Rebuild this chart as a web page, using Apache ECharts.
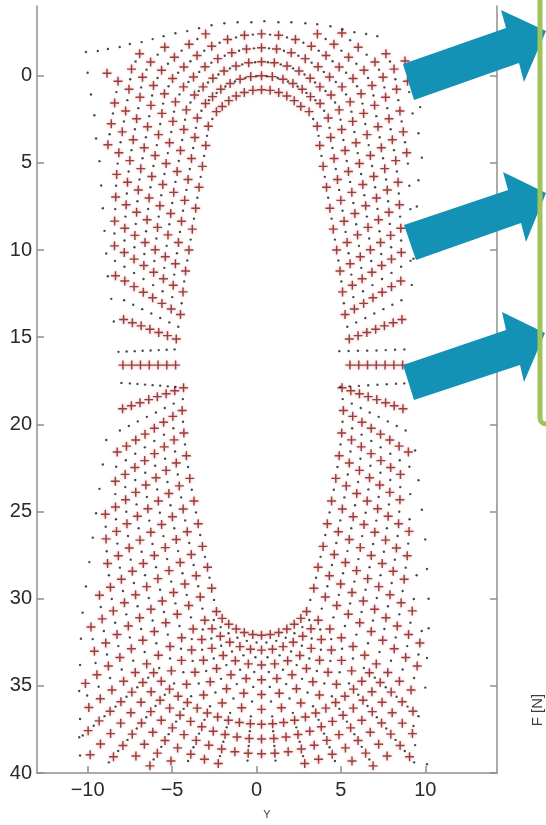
<!DOCTYPE html>
<html><head><meta charset="utf-8">
<script src="https://cdn.jsdelivr.net/npm/echarts@6/dist/echarts.min.js"></script>
<style>html,body{margin:0;padding:0;background:#fff;}#c{width:546px;height:825px;}</style>
</head><body><div id="c"></div>
<script>
const xTickValues = [-10, -5, 0, 5, 10];
const yTickValues = [0, 5, 10, 15, 20, 25, 30, 35, 40];

const topCapCrosses = [
[0.3,0.8],[0.3,0],[0.3,-0.8],[0.3,-1.6],[0.3,-2.4],
[0.81,0.84],[0.94,0.05],[1.06,-0.74],[1.19,-1.53],[1.31,-2.32],
[-0.21,0.84],[-0.34,0.05],[-0.46,-0.74],[-0.59,-1.53],[-0.71,-2.32],
[1.32,0.96],[1.57,0.2],[1.81,-0.56],[2.06,-1.32],[2.31,-2.08],
[-0.72,0.96],[-0.97,0.2],[-1.21,-0.56],[-1.46,-1.32],[-1.71,-2.08],
[1.8,1.16],[2.16,0.45],[2.52,-0.27],[2.89,-0.98],[3.25,-1.69],[3.61,-2.4],
[-1.2,1.16],[-1.56,0.45],[-1.92,-0.27],[-2.29,-0.98],[-2.65,-1.69],[-3.01,-2.4],
[2.24,1.43],[2.71,0.78],[3.18,0.14],[3.65,-0.51],[4.12,-1.16],[4.59,-1.81],[5.06,-2.45],
[-1.64,1.43],[-2.11,0.78],[-2.58,0.14],[-3.05,-0.51],[-3.52,-1.16],[-3.99,-1.81],
[2.63,1.77],[3.2,1.2],[3.76,0.64],[4.33,0.07],[4.9,-0.5],[5.46,-1.06],[6.03,-1.63],
[-2.03,1.77],[-2.6,1.2],[-3.16,0.64],[-3.73,0.07],[-4.3,-0.5],[-4.86,-1.06],[-5.43,-1.63]
];

const leftSideCrosses = [
[-2.37,2.06],[-3.02,1.59],[-3.67,1.11],[-4.32,0.64],[-4.97,0.16],[-5.62,-0.31],[-6.27,-0.79],[-6.92,-1.26],
[-2.85,2.9],[-3.5,2.43],[-4.15,1.96],[-4.8,1.5],[-5.45,1.03],[-6.1,0.56],[-6.75,0.09],[-7.4,-0.38],
[-3,4],[-3.65,3.54],[-4.3,3.08],[-4.95,2.62],[-5.6,2.16],[-6.25,1.7],[-6.9,1.24],[-7.55,0.78],[-8.2,0.32],[-8.85,-0.14],
[-3.2,5.2],[-3.85,4.75],[-4.5,4.29],[-5.15,3.84],[-5.8,3.38],[-6.45,2.93],[-7.1,2.47],[-7.75,2.02],[-8.4,1.56],
[-3.4,6.4],[-4.05,5.95],[-4.7,5.49],[-5.35,5.04],[-6,4.58],[-6.65,4.13],[-7.3,3.67],[-7.95,3.22],[-8.6,2.76],
[-3.6,7.6],[-4.25,7.15],[-4.9,6.69],[-5.55,6.24],[-6.2,5.78],[-6.85,5.33],[-7.5,4.87],[-8.15,4.42],[-8.8,3.96],
[-3.8,8.8],[-4.44,8.35],[-5.08,7.9],[-5.72,7.46],[-6.36,7.01],[-7,6.56],[-7.64,6.11],[-8.28,5.66],
[-4,10],[-4.62,9.57],[-5.24,9.13],[-5.86,8.7],[-6.48,8.26],[-7.1,7.83],[-7.72,7.4],[-8.34,6.96],
[-4.2,11.2],[-4.8,10.79],[-5.4,10.38],[-6,9.98],[-6.6,9.57],[-7.2,9.16],[-7.8,8.75],[-8.4,8.34],
[-4.35,12.4],[-4.93,12.02],[-5.51,11.65],[-6.09,11.27],[-6.67,10.89],[-7.25,10.52],[-7.83,10.14],[-8.41,9.76],
[-4.5,13.7],[-5.05,13.38],[-5.6,13.06],[-6.15,12.74],[-6.7,12.42],[-7.25,12.1],[-7.8,11.78],[-8.35,11.47],
[-4.75,15.1],[-5.27,14.91],[-5.79,14.73],[-6.31,14.54],[-6.83,14.35],[-7.35,14.17],[-7.87,13.98],
[-4.79,16.6],[-5.31,16.6],[-5.83,16.6],[-6.35,16.6],[-6.87,16.6],[-7.39,16.6],[-7.91,16.6],
[-4.32,17.9],[-4.84,18.07],[-5.35,18.24],[-5.87,18.41],[-6.38,18.58],[-6.9,18.76],[-7.41,18.93],[-7.93,19.1],
[-4.4,19.2],[-4.95,19.54],[-5.5,19.88],[-6.05,20.22],[-6.6,20.56],[-7.15,20.9],[-7.7,21.25],[-8.25,21.59],
[-4.3,20.5],[-4.88,20.89],[-5.46,21.29],[-6.04,21.68],[-6.62,22.08],[-7.2,22.47],[-7.78,22.87],[-8.36,23.26],
[-4.15,21.8],[-4.75,22.22],[-5.35,22.64],[-5.95,23.06],[-6.55,23.48],[-7.15,23.9],[-7.75,24.32],[-8.35,24.74],[-8.95,25.16],
[-3.95,23.1],[-4.57,23.53],[-5.19,23.97],[-5.81,24.4],[-6.43,24.84],[-7.05,25.27],[-7.67,25.7],[-8.29,26.14],[-8.91,26.57],
[-3.7,24.4],[-4.34,24.85],[-4.98,25.3],[-5.62,25.74],[-6.26,26.19],[-6.9,26.64],[-7.54,27.09],[-8.18,27.54],[-8.82,27.98],
[-3.45,25.7],[-4.1,26.16],[-4.75,26.61],[-5.4,27.07],[-6.05,27.52],[-6.7,27.98],[-7.35,28.43],[-8,28.89],[-8.65,29.34],[-9.3,29.8],
[-3.2,27],[-3.86,27.46],[-4.52,27.92],[-5.18,28.39],[-5.84,28.85],[-6.5,29.31],[-7.16,29.77],[-7.82,30.23],[-8.48,30.7],[-9.14,31.16],[-9.8,31.62],
[-2.9,28.2],[-3.57,28.68],[-4.24,29.16],[-4.91,29.65],[-5.58,30.13],[-6.25,30.61],[-6.92,31.09],[-7.59,31.57],[-8.26,32.06],[-8.93,32.54],[-9.6,33.02],
[-2.65,29.4],[-3.33,29.9],[-4.01,30.39],[-4.69,30.89],[-5.37,31.38],[-6.05,31.88],[-6.73,32.38],[-7.41,32.87],[-8.09,33.37],[-8.77,33.86],[-9.45,34.36],[-10.13,34.86]
];

const rightSideCrosses = [
[3.12,2.06],[3.77,1.59],[4.42,1.11],[5.07,0.64],[5.72,0.16],[6.37,-0.31],[7.02,-0.79],[7.67,-1.26],
[3.6,2.9],[4.25,2.43],[4.9,1.96],[5.55,1.5],[6.2,1.03],[6.85,0.56],[7.5,0.09],[8.15,-0.38],[8.8,-0.84],
[3.75,4],[4.4,3.54],[5.05,3.08],[5.7,2.62],[6.35,2.16],[7,1.7],[7.65,1.24],[8.3,0.78],[8.95,0.32],
[3.95,5.2],[4.6,4.75],[5.25,4.29],[5.9,3.84],[6.55,3.38],[7.2,2.93],[7.85,2.47],[8.5,2.02],
[4.15,6.4],[4.8,5.95],[5.45,5.49],[6.1,5.04],[6.75,4.58],[7.4,4.13],[8.05,3.67],[8.7,3.22],
[4.35,7.6],[5,7.15],[5.65,6.69],[6.3,6.24],[6.95,5.78],[7.6,5.33],[8.25,4.87],[8.9,4.42],
[4.55,8.8],[5.19,8.35],[5.83,7.9],[6.47,7.46],[7.11,7.01],[7.75,6.56],[8.39,6.11],
[4.75,10],[5.37,9.57],[5.99,9.13],[6.61,8.7],[7.23,8.26],[7.85,7.83],[8.47,7.4],
[4.95,11.2],[5.55,10.79],[6.15,10.38],[6.75,9.98],[7.35,9.57],[7.95,9.16],[8.55,8.75],
[5.1,12.4],[5.68,12.02],[6.26,11.65],[6.84,11.27],[7.42,10.89],[8,10.52],[8.58,10.14],
[5.25,13.7],[5.8,13.38],[6.35,13.06],[6.9,12.74],[7.45,12.42],[8,12.1],[8.55,11.78],
[5.5,15.1],[6.02,14.91],[6.54,14.73],[7.06,14.54],[7.58,14.35],[8.1,14.17],[8.62,13.98],
[5.54,16.6],[6.06,16.6],[6.58,16.6],[7.1,16.6],[7.62,16.6],[8.14,16.6],[8.66,16.6],
[5.07,17.9],[5.59,18.07],[6.1,18.24],[6.62,18.41],[7.13,18.58],[7.65,18.76],[8.16,18.93],[8.68,19.1],
[5.15,19.2],[5.7,19.54],[6.25,19.88],[6.8,20.22],[7.35,20.56],[7.9,20.9],[8.45,21.25],[9,21.59],
[5.05,20.5],[5.63,20.89],[6.21,21.29],[6.79,21.68],[7.37,22.08],[7.95,22.47],[8.53,22.87],
[4.9,21.8],[5.5,22.22],[6.1,22.64],[6.7,23.06],[7.3,23.48],[7.9,23.9],[8.5,24.32],
[4.7,23.1],[5.32,23.53],[5.94,23.97],[6.56,24.4],[7.18,24.84],[7.8,25.27],[8.42,25.7],[9.04,26.14],
[4.45,24.4],[5.09,24.85],[5.73,25.3],[6.37,25.74],[7.01,26.19],[7.65,26.64],[8.29,27.09],[8.93,27.54],
[4.2,25.7],[4.85,26.16],[5.5,26.61],[6.15,27.07],[6.8,27.52],[7.45,27.98],[8.1,28.43],[8.75,28.89],
[3.95,27],[4.61,27.46],[5.27,27.92],[5.93,28.39],[6.59,28.85],[7.25,29.31],[7.91,29.77],[8.57,30.23],[9.23,30.7],
[3.65,28.2],[4.32,28.68],[4.99,29.16],[5.66,29.65],[6.33,30.13],[7,30.61],[7.67,31.09],[8.34,31.57],[9.01,32.06],[9.68,32.54],
[3.4,29.4],[4.08,29.9],[4.76,30.39],[5.44,30.89],[6.12,31.38],[6.8,31.88],[7.48,32.38],[8.16,32.87],[8.84,33.37],[9.52,33.86]
];

const bottomCapCrosses = [
[0.3,32.1],[0.3,32.95],[0.3,33.8],[0.3,34.65],[0.3,35.5],[0.3,36.35],[0.3,37.2],[0.3,38.05],[0.3,38.9],
[0.82,32.06],[0.95,32.9],[1.08,33.74],[1.21,34.58],[1.35,35.42],[1.48,36.26],[1.61,37.1],[1.75,37.94],[1.88,38.78],
[-0.22,32.06],[-0.35,32.9],[-0.48,33.74],[-0.61,34.58],[-0.75,35.42],[-0.88,36.26],[-1.01,37.1],[-1.15,37.94],[-1.28,38.78],
[1.32,31.94],[1.58,32.75],[1.85,33.56],[2.11,34.36],[2.37,35.17],[2.63,35.98],[2.9,36.79],[3.16,37.6],[3.42,38.41],[3.68,39.21],
[-0.72,31.94],[-0.98,32.75],[-1.25,33.56],[-1.51,34.36],[-1.77,35.17],[-2.03,35.98],[-2.3,36.79],[-2.56,37.6],[-2.82,38.41],[-3.08,39.21],
[1.8,31.74],[2.18,32.5],[2.57,33.26],[2.96,34.01],[3.34,34.77],[3.73,35.53],[4.11,36.28],[4.5,37.04],[4.89,37.8],[5.27,38.56],[5.66,39.31],
[-1.2,31.74],[-1.58,32.5],[-1.97,33.26],[-2.36,34.01],[-2.74,34.77],[-3.13,35.53],[-3.51,36.28],[-3.9,37.04],[-4.29,37.8],[-4.67,38.56],[-5.06,39.31],
[2.24,31.47],[2.74,32.16],[3.24,32.85],[3.74,33.53],[4.24,34.22],[4.74,34.91],[5.24,35.6],[5.74,36.28],[6.24,36.97],[6.74,37.66],[7.24,38.35],[7.74,39.03],
[-1.64,31.47],[-2.14,32.16],[-2.64,32.85],[-3.14,33.53],[-3.64,34.22],[-4.14,34.91],[-4.64,35.6],[-5.14,36.28],[-5.64,36.97],[-6.14,37.66],[-6.64,38.35],[-7.14,39.03],
[2.63,31.13],[3.23,31.73],[3.84,32.34],[4.44,32.94],[5.04,33.54],[5.64,34.14],[6.24,34.74],[6.84,35.34],[7.44,35.94],[8.04,36.54],[8.64,37.14],[9.24,37.74],
[-2.03,31.13],[-2.63,31.73],[-3.24,32.34],[-3.84,32.94],[-4.44,33.54],[-5.04,34.14],[-5.64,34.74],[-6.24,35.34],[-6.84,35.94],[-7.44,36.54],[-8.04,37.14],[-8.64,37.74],[-9.24,38.34],[-9.85,38.95],
[2.97,30.74],[3.66,31.24],[4.35,31.74],[5.03,32.24],[5.72,32.74],[6.41,33.24],[7.1,33.74],[7.78,34.24],[8.47,34.74],[9.16,35.24],
[-2.37,30.74],[-3.06,31.24],[-3.75,31.74],[-4.43,32.24],[-5.12,32.74],[-5.81,33.24],[-6.5,33.74],[-7.18,34.24],[-7.87,34.74],[-8.56,35.24],[-9.25,35.74],[-9.93,36.24],
[0.96,37.17],[1.03,38.02],[1.09,38.87],[-0.36,37.17],[-0.43,38.02],[-0.49,38.87],
[2.26,36.97],[2.46,37.79],[2.66,38.62],[2.86,39.45],[-1.66,36.97],[-1.86,37.79],[-2.06,38.62],[-2.26,39.45],
[3.51,36.56],[3.84,37.35],[4.17,38.13],[4.49,38.92],[-2.91,36.56],[-3.24,37.35],[-3.57,38.13],[-3.89,38.92],
[4.69,35.96],[5.13,36.69],[5.58,37.41],[6.02,38.14],[6.47,38.86],[6.91,39.59],[-4.09,35.96],[-4.53,36.69],[-4.98,37.41],[-5.42,38.14],[-5.87,38.86],[-6.31,39.59],
[5.75,35.19],[6.31,35.83],[6.86,36.48],[7.41,37.13],[7.96,37.77],[8.51,38.42],[9.07,39.07],[-5.15,35.19],[-5.71,35.83],[-6.26,36.48],[-6.81,37.13],[-7.36,37.77],[-7.91,38.42],[-8.47,39.07],
[6.69,34.25],[7.33,34.81],[7.98,35.36],[8.63,35.91],[9.27,36.46],[-6.09,34.25],[-6.73,34.81],[-7.38,35.36],[-8.03,35.91],[-8.67,36.46],[-9.32,37.01],[-9.97,37.57]
];

const boundaryDots = [
[-10.1,-1.36],[-9.4,-1.42],[-8.8,-1.53],[-8.1,-1.65],[-7.5,-1.82],[-6.8,-1.93],[-6.15,-2.1],[-5.5,-2.27],[-4.8,-2.44],[-4.1,-2.56],[-3.4,-2.73],[-2.66,-2.9],[-1.9,-3.01],[-1.12,-3.07],[-0.3,-3.07],[0.47,-3.13],[1.3,-3.07],[2.07,-3.07],[2.9,-3.01],[3.6,-2.95],[4.38,-2.84],[5.09,-2.67],[5.8,-2.5],[6.5,-2.39],[7.16,-2.27],
[-10,-0.17],[-9.8,1.08],[-9.6,2.27],[-9.5,3.6],[-9.3,4.9],[-9.2,6.3],[-9.1,7.6],[-9,8.9],[-8.9,10.2],[-8.8,11.5],[-8.6,12.8],[-8.45,14.1],
[-8.9,20.9],[-9.1,22.3],[-9.3,23.7],[-9.5,25.1],[-9.7,26.5],[-9.9,27.9],[-10.1,29.3],[-10.3,30.8],[-10.4,32.3],[-10.45,33.8],[-10.5,35.3],[-10.45,36.9],[-10.5,37.95],[-10.45,39],
[9.4,0.4],[9.7,1.8],[9.6,3.3],[9.8,4.7],[9.6,6],[9.5,7.5],[9.4,9],[9.3,10.5],[9.2,12],
[9.4,21.5],[9.6,23.2],[9.8,24.9],[10,26.6],[10.1,28.3],[10.2,30],[10.2,31.7],[10.1,33.4],[10,35.1],[9.3,37.3],[9.4,38.4],[10.1,39.5]
];

const topCapDots = [
[0.62,0.03],[0.68,-0.77],[0.75,-1.57],[0.81,-2.36],
[1.26,0.13],[1.44,-0.65],[1.63,-1.43],[1.81,-2.2],
[1.87,0.33],[2.17,-0.42],[2.48,-1.15],[2.78,-1.89],
[2.44,0.62],[2.85,-0.07],[3.27,-0.75],[3.69,-1.43],[4.1,-2.11],
[2.96,0.99],[3.47,0.39],[3.99,-0.22],[4.51,-0.83],[5.03,-1.44],[5.55,-2.04],
[3.49,1.4],[4.09,0.88],[4.7,0.36],[5.31,-0.17],[5.92,-0.69],[6.53,-1.21],
[-0.02,0.03],[-0.08,-0.77],[-0.15,-1.57],[-0.21,-2.36],
[-0.66,0.13],[-0.84,-0.65],[-1.03,-1.43],[-1.21,-2.2],
[-1.27,0.33],[-1.57,-0.42],[-1.88,-1.15],[-2.18,-1.89],
[-1.84,0.62],[-2.25,-0.07],[-2.67,-0.75],[-3.09,-1.43],[-3.5,-2.11],
[-2.36,0.99],[-2.87,0.39],[-3.39,-0.22],[-3.91,-0.83],[-4.43,-1.44],
[-2.81,1.4],[-3.42,0.88],[-4.03,0.36],[-4.64,-0.17],[-5.24,-0.69],[-5.85,-1.21]
];

const leftSideDots = [
[-2.61,2.48],[-3.26,2.01],[-3.91,1.54],[-4.56,1.07],[-5.21,0.6],[-5.86,0.13],[-6.51,-0.35],[-7.16,-0.82],
[-2.93,3.45],[-3.58,2.99],[-4.23,2.52],[-4.88,2.06],[-5.53,1.6],[-6.18,1.13],[-6.83,0.67],[-7.48,0.2],
[-3.1,4.6],[-3.75,4.15],[-4.4,3.69],[-5.05,3.23],[-5.7,2.77],[-6.35,2.32],[-7,1.86],[-7.65,1.4],[-8.3,0.94],
[-3.3,5.8],[-3.95,5.35],[-4.6,4.89],[-5.25,4.44],[-5.9,3.98],[-6.55,3.53],[-7.2,3.07],[-7.85,2.62],[-8.5,2.16],
[-3.5,7],[-4.15,6.55],[-4.8,6.09],[-5.45,5.64],[-6.1,5.18],[-6.75,4.73],[-7.4,4.27],[-8.05,3.82],[-8.7,3.36],
[-3.7,8.2],[-4.35,7.75],[-4.99,7.3],[-5.64,6.85],[-6.28,6.4],[-6.93,5.95],[-7.57,5.49],[-8.22,5.04],
[-3.9,9.4],[-4.53,8.96],[-5.16,8.52],[-5.79,8.08],[-6.42,7.64],[-7.05,7.2],[-7.68,6.76],[-8.31,6.31],
[-4.1,10.6],[-4.71,10.18],[-5.32,9.76],[-5.93,9.34],[-6.54,8.92],[-7.15,8.5],[-7.76,8.08],[-8.37,7.65],
[-4.28,11.8],[-4.87,11.41],[-5.46,11.02],[-6.05,10.63],[-6.64,10.23],[-7.23,9.84],[-7.82,9.45],[-8.41,9.05],
[-4.43,13.05],[-4.99,12.7],[-5.56,12.36],[-6.12,12.01],[-6.69,11.66],[-7.25,11.31],[-7.82,10.96],[-8.38,10.62],
[-4.63,14.4],[-5.16,14.15],[-5.7,13.9],[-6.23,13.64],[-6.77,13.39],[-7.3,13.14],[-7.84,12.88],
[-4.85,15.7],[-5.32,15.72],[-5.79,15.74],[-6.27,15.76],[-6.74,15.78],[-7.21,15.8],[-7.69,15.82],[-8.17,15.84],
[-4.8,17.85],[-5.25,17.82],[-5.7,17.78],[-6.15,17.75],[-6.6,17.72],[-7.05,17.68],[-7.5,17.65],[-8,17.62],
[-4.36,18.55],[-4.9,18.81],[-5.43,19.06],[-5.96,19.32],[-6.49,19.57],[-7.03,19.83],[-7.56,20.09],[-8.09,20.35],
[-4.35,19.85],[-4.92,20.22],[-5.48,20.59],[-6.05,20.95],[-6.61,21.32],[-7.18,21.69],[-7.74,22.06],[-8.31,22.43],
[-4.23,21.15],[-4.82,21.56],[-5.41,21.97],[-6,22.37],[-6.59,22.78],[-7.18,23.19],[-7.77,23.6],[-8.36,24],
[-4.05,22.45],[-4.66,22.88],[-5.27,23.31],[-5.88,23.73],[-6.49,24.16],[-7.1,24.59],[-7.71,25.01],[-8.32,25.44],[-8.93,25.87],
[-3.83,23.75],[-4.46,24.19],[-5.09,24.64],[-5.72,25.07],[-6.35,25.52],[-6.98,25.96],[-7.61,26.4],[-8.24,26.84],[-8.87,27.28],
[-3.58,25.05],[-4.22,25.51],[-4.87,25.96],[-5.51,26.41],[-6.16,26.86],[-6.8,27.31],[-7.45,27.76],[-8.09,28.22],[-8.74,28.66],
[-3.33,26.35],[-3.98,26.81],[-4.64,27.27],[-5.29,27.73],[-5.95,28.19],[-6.6,28.65],[-7.26,29.1],[-7.91,29.56],[-8.57,30.02],[-9.22,30.48],
[-3.05,27.6],[-3.72,28.07],[-4.38,28.54],[-5.05,29.02],[-5.71,29.49],[-6.38,29.96],[-7.04,30.43],[-7.71,30.9],[-8.37,31.38],[-9.04,31.85],[-9.7,32.32],
[-2.78,28.8],[-3.45,29.29],[-4.13,29.78],[-4.8,30.27],[-5.48,30.76],[-6.15,31.25],[-6.83,31.74],[-7.5,32.22],[-8.18,32.72],[-8.85,33.2],[-9.53,33.69],
[-2.51,30.07],[-3.2,30.57],[-3.88,31.07],[-4.56,31.57],[-5.25,32.06],[-5.93,32.56],[-6.62,33.06],[-7.3,33.56],[-7.98,34.06],[-8.67,34.55],[-9.35,35.05],[-10.03,35.55]
];

const rightSideDots = [
[3.36,2.48],[4.01,2.01],[4.66,1.54],[5.31,1.07],[5.96,0.6],[6.61,0.13],[7.26,-0.35],[7.91,-0.82],
[3.68,3.45],[4.33,2.99],[4.98,2.52],[5.63,2.06],[6.28,1.6],[6.93,1.13],[7.58,0.67],[8.23,0.2],
[3.85,4.6],[4.5,4.15],[5.15,3.69],[5.8,3.23],[6.45,2.77],[7.1,2.32],[7.75,1.86],[8.4,1.4],[9.05,0.94],
[4.05,5.8],[4.7,5.35],[5.35,4.89],[6,4.44],[6.65,3.98],[7.3,3.53],[7.95,3.07],[8.6,2.62],[9.25,2.16],
[4.25,7],[4.9,6.55],[5.55,6.09],[6.2,5.64],[6.85,5.18],[7.5,4.73],[8.15,4.27],[8.8,3.82],
[4.45,8.2],[5.1,7.75],[5.74,7.3],[6.39,6.85],[7.03,6.4],[7.68,5.95],[8.32,5.49],[8.97,5.04],
[4.65,9.4],[5.28,8.96],[5.91,8.52],[6.54,8.08],[7.17,7.64],[7.8,7.2],[8.43,6.76],[9.06,6.31],
[4.85,10.6],[5.46,10.18],[6.07,9.76],[6.68,9.34],[7.29,8.92],[7.9,8.5],[8.51,8.08],[9.12,7.65],
[5.03,11.8],[5.62,11.41],[6.21,11.02],[6.8,10.63],[7.39,10.23],[7.98,9.84],[8.57,9.45],[9.16,9.05],
[5.18,13.05],[5.74,12.7],[6.31,12.36],[6.87,12.01],[7.44,11.66],[8,11.31],[8.57,10.96],[9.13,10.62],
[5.38,14.4],[5.91,14.15],[6.45,13.9],[6.98,13.64],[7.52,13.39],[8.05,13.14],[8.59,12.88],
[4.91,15.8],[5.46,15.79],[6.01,15.78],[6.56,15.77],[7.11,15.76],[7.66,15.74],[8.21,15.72],[8.76,15.7],
[4.97,17.85],[5.52,17.82],[6.07,17.79],[6.62,17.76],[7.17,17.73],[7.72,17.7],[8.27,17.67],[8.76,17.65],
[5.11,18.55],[5.65,18.81],[6.18,19.06],[6.71,19.32],[7.24,19.57],[7.78,19.83],[8.31,20.09],[8.84,20.35],
[5.1,19.85],[5.67,20.22],[6.23,20.59],[6.8,20.95],[7.36,21.32],[7.93,21.69],[8.49,22.06],[9.06,22.43],
[4.98,21.15],[5.57,21.56],[6.16,21.97],[6.75,22.37],[7.34,22.78],[7.93,23.19],[8.52,23.6],[9.11,24],
[4.8,22.45],[5.41,22.88],[6.02,23.31],[6.63,23.73],[7.24,24.16],[7.85,24.59],[8.46,25.01],[9.07,25.44],
[4.58,23.75],[5.21,24.19],[5.84,24.64],[6.47,25.07],[7.1,25.52],[7.73,25.96],[8.36,26.4],[8.99,26.84],
[4.33,25.05],[4.97,25.51],[5.62,25.96],[6.26,26.41],[6.91,26.86],[7.55,27.31],[8.2,27.76],[8.84,28.22],[9.49,28.66],
[4.08,26.35],[4.73,26.81],[5.39,27.27],[6.04,27.73],[6.7,28.19],[7.35,28.65],[8.01,29.1],[8.66,29.56],[9.32,30.02],
[3.8,27.6],[4.47,28.07],[5.13,28.54],[5.8,29.02],[6.46,29.49],[7.13,29.96],[7.79,30.43],[8.46,30.9],[9.12,31.38],[9.79,31.85],
[3.53,28.8],[4.2,29.29],[4.88,29.78],[5.55,30.27],[6.23,30.76],[6.9,31.25],[7.58,31.74],[8.25,32.22],[8.93,32.72],[9.6,33.2],
[3.19,30.07],[3.87,30.57],[4.56,31.07],[5.24,31.57],[5.92,32.06],[6.61,32.56],[7.29,33.06],[7.97,33.56],[8.66,34.06],[9.34,34.55]
];

const bottomCapDots = [
[0.59,32.51],[0.66,33.36],[0.73,34.21],[0.79,35.06],[0.86,35.9],[0.93,36.75],[0.99,37.6],[1.06,38.45],[1.13,39.29],
[0.01,32.51],[-0.06,33.36],[-0.13,34.21],[-0.19,35.06],[-0.26,35.9],[-0.33,36.75],[-0.39,37.6],[-0.46,38.45],[-0.53,39.29],
[1.17,32.42],[1.37,33.25],[1.57,34.08],[1.76,34.9],[1.96,35.73],[2.16,36.55],[2.36,37.38],[2.56,38.21],[2.76,39.03],
[-0.57,32.42],[-0.77,33.25],[-0.97,34.08],[-1.16,34.9],[-1.36,35.73],[-1.56,36.55],[-1.76,37.38],[-1.96,38.21],[-2.16,39.03],
[1.73,32.24],[2.05,33.03],[2.38,33.81],[2.7,34.6],[3.03,35.38],[3.35,36.17],[3.68,36.95],[4,37.74],[4.33,38.52],[4.65,39.31],
[-1.13,32.24],[-1.45,33.03],[-1.78,33.81],[-2.1,34.6],[-2.43,35.38],[-2.75,36.17],[-3.08,36.95],[-3.4,37.74],[-3.73,38.52],[-4.05,39.31],
[2.25,31.98],[2.69,32.7],[3.13,33.43],[3.58,34.15],[4.02,34.87],[4.47,35.6],[4.91,36.32],[5.36,37.05],[5.8,37.77],[6.24,38.5],[6.69,39.22],
[-1.65,31.98],[-2.09,32.7],[-2.53,33.43],[-2.98,34.15],[-3.42,34.87],[-3.87,35.6],[-4.31,36.32],[-4.76,37.05],[-5.2,37.77],[-5.64,38.5],[-6.09,39.22],
[2.72,31.63],[3.27,32.28],[3.82,32.93],[4.38,33.57],[4.93,34.22],[5.48,34.86],[6.03,35.51],[6.58,36.16],[7.13,36.8],[7.69,37.45],[8.24,38.1],[8.79,38.74],[9.34,39.39],
[-2.12,31.63],[-2.67,32.28],[-3.22,32.93],[-3.78,33.57],[-4.33,34.22],[-4.88,34.86],[-5.43,35.51],[-5.98,36.16],[-6.53,36.8],[-7.09,37.45],[-7.64,38.1],[-8.19,38.74],[-8.74,39.39],
[3.13,31.22],[3.78,31.77],[4.43,32.32],[5.07,32.87],[5.72,33.43],[6.36,33.98],[7.01,34.53],[7.66,35.08],[8.3,35.63],[8.95,36.19],[9.6,36.74],
[-2.53,31.22],[-3.18,31.77],[-3.83,32.32],[-4.47,32.87],[-5.12,33.43],[-5.76,33.98],[-6.41,34.53],[-7.06,35.08],[-7.7,35.63],[-8.35,36.19],[-9,36.74],[-9.64,37.29],[-10.29,37.85]
];

const crosses = [].concat(topCapCrosses, leftSideCrosses, rightSideCrosses, bottomCapCrosses);
const dots = [].concat(boundaryDots, topCapDots, leftSideDots, rightSideDots, bottomCapDots);

const chart = echarts.init(document.getElementById('c'), null, {renderer: 'canvas'});
const axisGray = '#8f8f8f';
const fontFam = '"Liberation Sans", Arial, Helvetica, sans-serif';
const plusPath = 'path://M-0.8,-5L0.8,-5L0.8,-0.8L5,-0.8L5,0.8L0.8,0.8L0.8,5L-0.8,5L-0.8,0.8L-5,0.8L-5,-0.8L-0.8,-0.8Z';
const minusFmt = v => (v < 0 ? '\u2212' + Math.abs(v) : String(v));

const yBase = {
  type: 'value', inverse: true, min: -4, max: 40, splitNumber: 9,
  splitLine: {show: false},
  axisLine: {show: true, onZero: false, lineStyle: {color: axisGray, width: 1.5}},
  axisTick: {show: true, inside: true, length: 7, customValues: yTickValues, lineStyle: {color: axisGray, width: 1.5}}
};

chart.setOption({
  animation: false,
  backgroundColor: '#ffffff',
  grid: {left: 37, right: 49, top: 6, bottom: 44, containLabel: false},
  xAxis: {
    type: 'value', min: -13, max: 14.25, splitNumber: 5,
    splitLine: {show: false},
    axisLine: {onZero: false, lineStyle: {color: axisGray, width: 1.5}},
    axisTick: {inside: true, length: 7, customValues: xTickValues, lineStyle: {color: axisGray, width: 1.5}},
    axisLabel: {customValues: xTickValues, fontSize: 20, color: '#2b2b2b', fontFamily: fontFam, margin: 7, formatter: minusFmt},
    name: 'Y', nameLocation: 'middle', nameGap: 36,
    nameTextStyle: {fontSize: 11, color: '#444', fontFamily: fontFam}
  },
  yAxis: [
    Object.assign({}, yBase, {position: 'left',
      axisLabel: {customValues: yTickValues, fontSize: 20, color: '#2b2b2b', fontFamily: fontFam, margin: 5, formatter: minusFmt}}),
    Object.assign({}, yBase, {position: 'right', axisLabel: {show: false}})
  ],
  series: [
    {
      type: 'scatter', data: crosses, symbol: plusPath, symbolSize: 9,
      itemStyle: {color: '#963636', opacity: 0.95, shadowBlur: 3, shadowColor: 'rgba(215,110,110,0.6)'},
      silent: true, z: 2
    },
    {
      type: 'scatter', data: dots, symbol: 'circle', symbolSize: 2.4,
      itemStyle: {color: '#1c1c1c'}, silent: true, z: 3
    }
  ],
  graphic: [
    {type: 'polygon', z: 100, shape: {points: [[403,64],[506,28],[501,10],[546,31],[524,82],[519,63],[414,100]]}, style: {fill: '#1492b6'}},
    {type: 'polygon', z: 100, shape: {points: [[404,225],[508,190],[503,172],[546,193],[526,242],[521,223],[416,260]]}, style: {fill: '#1492b6'}},
    {type: 'polygon', z: 100, shape: {points: [[403,365],[506,330],[502,312],[545,333],[524,382],[520,365],[414,400]]}, style: {fill: '#1492b6'}},
    {type: 'rect', z: 101, shape: {x: 540, y: -20, width: 40, height: 444, r: 6}, style: {fill: 'none', stroke: '#a0c45a', lineWidth: 5}},
    {type: 'text', z: 101, x: 538, y: 710, rotation: Math.PI / 2, style: {text: 'F [N]', fontSize: 15, fill: '#3a3a3a', fontFamily: fontFam, align: 'center', verticalAlign: 'middle'}}
  ]
});
</script>
</body></html>
